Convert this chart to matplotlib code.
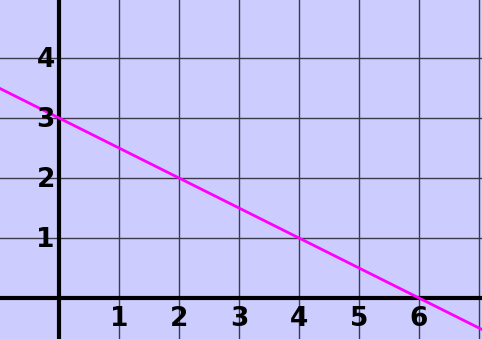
import matplotlib
matplotlib.use("Agg")
import matplotlib.pyplot as plt
import numpy as np

# line y = 3 - x/2, read at the two ends of the visible range
line_x = [-1.0, 7.2]
line_y = [3.5, -0.6]
x_ticks = [1, 2, 3, 4, 5, 6]
y_ticks = [1, 2, 3, 4]
grid_x = [1, 2, 3, 4, 5, 6, 7]
grid_y = [1, 2, 3, 4, 5]

fig = plt.figure(figsize=(4.82, 3.39), dpi=100)
ax = fig.add_axes([0, 0, 1, 1])
ax.set_facecolor("#ccccff")
fig.patch.set_facecolor("#ccccff")

ax.set_xlim(-59 / 60, 423 / 60)
ax.set_ylim(-41 / 60, 298 / 60)

for gx in grid_x:
    ax.axvline(gx, color="#3a3a4a", lw=1.0, zorder=1)
for gy in grid_y:
    ax.axhline(gy, color="#3a3a4a", lw=1.0, zorder=1)

ax.axvline(0, color="black", lw=3.0, zorder=2)
ax.axhline(0, color="black", lw=3.0, zorder=2)

ax.plot(line_x, line_y, color="#ff00ff", lw=2.0, zorder=3)

for t in x_ticks:
    ax.text(t, -0.13, str(t), ha="center", va="top", fontsize=19,
            fontweight="heavy", color="black", zorder=4)
for t in y_ticks:
    ax.text(-0.07, t - 0.03, str(t), ha="right", va="center", fontsize=19,
            fontweight="heavy", color="black", zorder=4)

ax.set_xticks([])
ax.set_yticks([])
for spine in ax.spines.values():
    spine.set_visible(False)

fig.savefig("out.png", dpi=100, facecolor=fig.get_facecolor())
